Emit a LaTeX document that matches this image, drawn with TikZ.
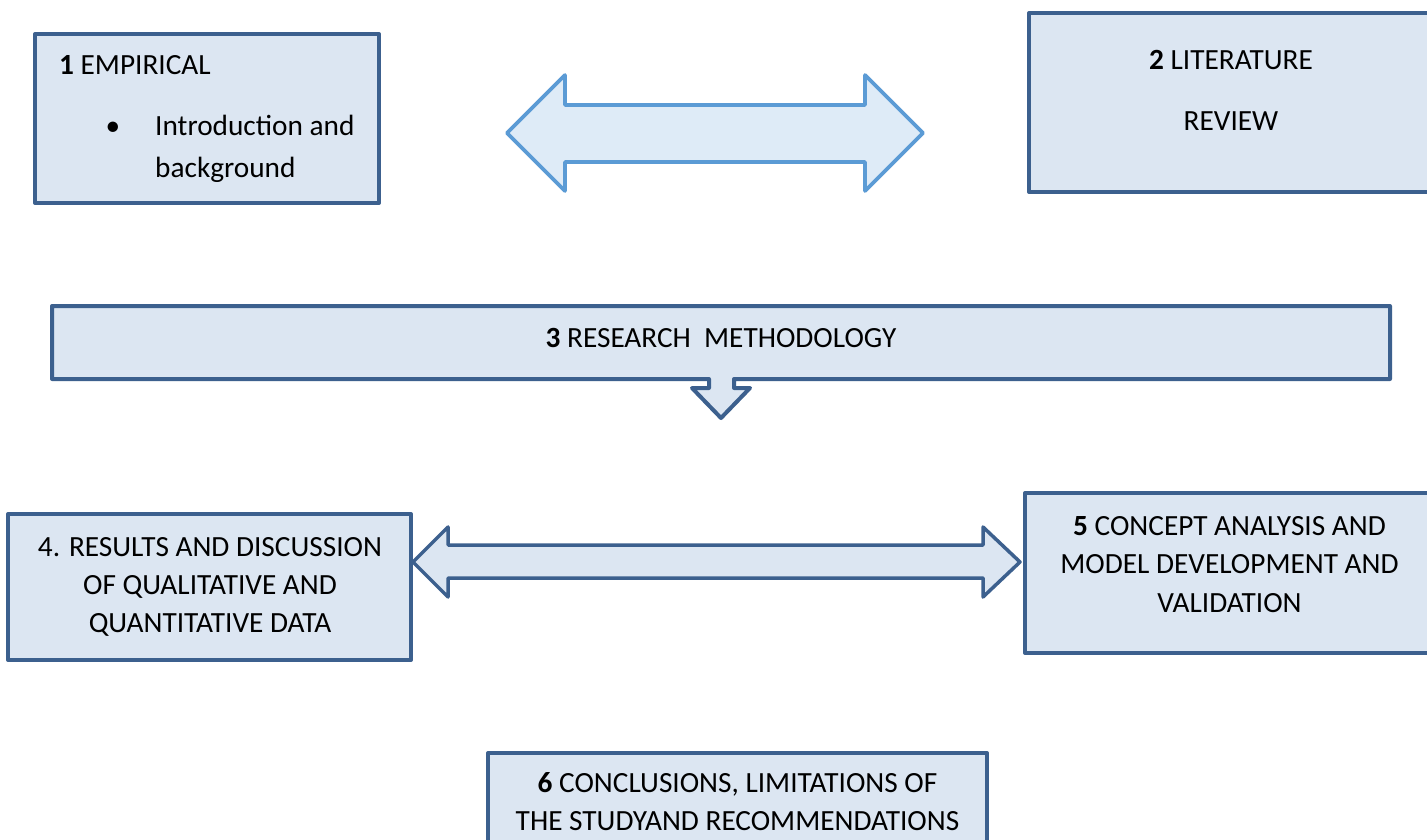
\documentclass[tikz,border=0pt]{standalone}
\usepackage{fontspec}
\setmainfont{Carlito}
\definecolor{bdr}{RGB}{60,96,142}
\definecolor{fillb}{RGB}{220,230,242}
\definecolor{lbdr}{RGB}{91,155,213}
\definecolor{lfill}{RGB}{222,235,247}
\begin{document}
\begin{tikzpicture}[x=1pt,y=-1pt,
  box/.style={draw=bdr,fill=fillb,line width=4pt,line join=round,rectangle,inner sep=0pt},
  blockarrow/.style={draw=bdr,fill=fillb,line width=3.5pt,line join=round},
  lightarrow/.style={draw=lbdr,fill=lfill,line width=3.6pt,line join=round},
  txt/.style={inner sep=0pt,font=\fontsize{29.3}{38}\selectfont,text=black}]
\useasboundingbox (0,0) rectangle (1427,840);
\clip (0,0) rectangle (1427,840);
\fill[white] (0,0) rectangle (1427,840);
% boxes
\node[box,minimum width=344pt,minimum height=169pt] (b1) at (207,118.5) {};
\node[box,minimum width=404pt,minimum height=179pt] (b2) at (1231,102.5) {};
\node[box,minimum width=403pt,minimum height=146pt] (b4) at (209.5,587) {};
\node[box,minimum width=409pt,minimum height=160pt] (b5) at (1229.5,573) {};
\node[box,minimum width=499pt,minimum height=147pt] (b6) at (737.5,826.5) {};
% box 3 with its down arrow
\path[box] (52,306) -- (1390,306) -- (1390,379) -- (734,379) -- (734,388) -- (750,388)
  -- (721,418) -- (692,388) -- (709,388) -- (709,379) -- (52,379) -- cycle;
\coordinate (b3) at (721,342.5);
% top double arrow
\path[lightarrow] (507,133) -- (565,75) -- (565,105) -- (865,105) -- (865,75) -- (923,133)
  -- (865,191) -- (865,162) -- (565,162) -- (565,191) -- cycle;
% middle double arrow
\path[blockarrow] (413,562) -- (448,527) -- (448,545) -- (983,545) -- (983,527) -- (1020,562)
  -- (983,597) -- (983,578) -- (448,578) -- (448,597) -- cycle;
% texts
\node[txt,anchor=base west] (t1a) at (59,75) {\textbf{1} EMPIRICAL};
\node[txt,anchor=base] (t1b) at (113,136) {\textbullet};
\node[txt,anchor=base west] (t1c) at (155,136) {Introduction and};
\node[txt,anchor=base west] (t1d) at (155,177) {background};
\node[txt,anchor=base] (t2a) at (1231,70) {\textbf{2} LITERATURE};
\node[txt,anchor=base] (t2b) at (1231,131) {REVIEW};
\node[txt,anchor=base] (t3) at (721,347) {\textbf{3} RESEARCH\ \ METHODOLOGY};
\node[txt,anchor=base] (t4a) at (210,556) {4. RESULTS AND DISCUSSION};
\node[txt,anchor=base] (t4b) at (210,594) {OF QUALITATIVE AND};
\node[txt,anchor=base] (t4c) at (210,632) {QUANTITATIVE DATA};
\node[txt,anchor=base] (t5a) at (1229.5,535) {\textbf{5} CONCEPT ANALYSIS AND};
\node[txt,anchor=base] (t5b) at (1229.5,573) {MODEL DEVELOPMENT AND};
\node[txt,anchor=base] (t5c) at (1229.5,612) {VALIDATION};
\node[txt,anchor=base] (t6a) at (737.5,792) {\textbf{6} CONCLUSIONS, LIMITATIONS OF};
\node[txt,anchor=base] (t6b) at (737.5,830) {THE STUDYAND RECOMMENDATIONS};
\end{tikzpicture}
\end{document}
